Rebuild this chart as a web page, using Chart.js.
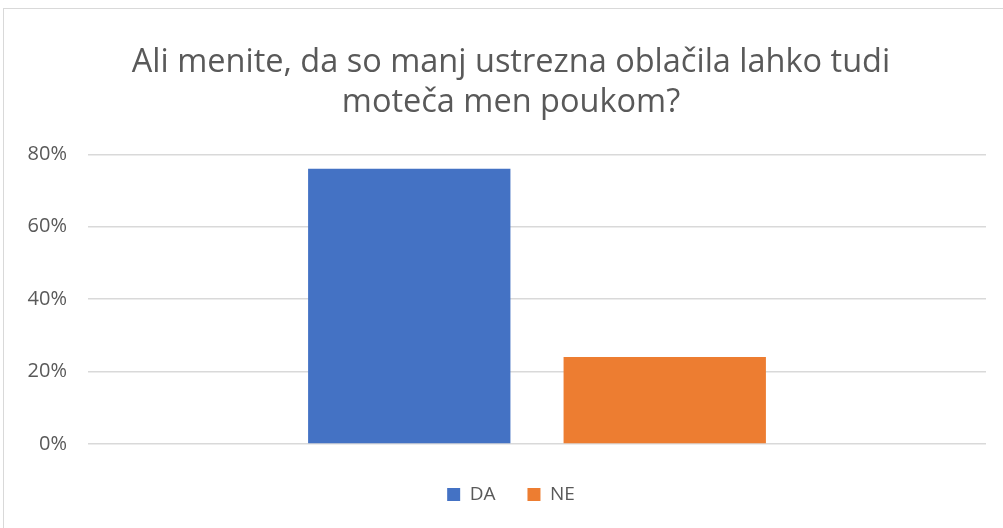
<!DOCTYPE html>
<html>
<head>
<meta charset="utf-8">
<script src="https://cdn.jsdelivr.net/npm/chart.js@4.4.0/dist/chart.umd.min.js"></script>
<style>
  html, body { margin: 0; padding: 0; background: #fff; overflow: hidden; }
  #frame { position: absolute; left: 3px; top: 8px; width: 1100px; height: 600px; border: 1px solid #d9d9d9; }
  #wrap { position: absolute; left: 0; top: 0; width: 1003px; height: 528px; }
</style>
</head>
<body>
<div id="frame"></div>
<div id="wrap"><canvas id="chart"></canvas></div>
<script>
const categories = [''];
const seriesNames = ['DA', 'NE'];
const daValues = [0.76];
const neValues = [0.24];
const yTicks = [0, 0.2, 0.4, 0.6, 0.8];

const textColor = '#595959';

// y labels sit left of the padded area, so widen the axis clip box after layout
const widenAxisClip = {
  id: 'widenAxisClip',
  afterLayout(chart) { chart.scales.y.left = 0; },
};

const ctx = document.getElementById('chart').getContext('2d');
new Chart(ctx, {
  type: 'bar',
  data: {
    labels: categories,
    datasets: [
      { label: seriesNames[0], data: daValues, backgroundColor: '#4472c4' },
      { label: seriesNames[1], data: neValues, backgroundColor: '#ed7d31' },
    ],
  },
  plugins: [widenAxisClip],
  options: {
    responsive: true,
    maintainAspectRatio: false,
    animation: false,
    categoryPercentage: 0.569,
    barPercentage: 0.792,
    layout: { padding: { left: 36, right: 17, top: 20, bottom: 14 } },
    plugins: {
      title: {
        display: true,
        text: ['Ali menite, da so manj ustrezna oblačila lahko tudi', 'moteča men poukom?'],
        color: textColor,
        font: { family: 'Open Sans', size: 32.5, weight: 'normal', lineHeight: 1.25 },
        padding: { top: 22, bottom: 31 },
      },
      legend: {
        position: 'bottom',
        labels: {
          color: textColor,
          font: { family: 'Open Sans', size: 19 },
          boxWidth: 13,
          boxHeight: 13,
          padding: 32,
        },
      },
      tooltip: { enabled: false },
    },
    scales: {
      x: {
        grid: { display: false },
        border: { display: false },
        ticks: { display: false },
        afterFit: (axis) => { axis.height = 9; },
      },
      y: {
        min: 0,
        max: 0.8,
        afterBuildTicks: (axis) => { axis.ticks = yTicks.map(v => ({ value: v })); },
        afterFit: (axis) => { axis.width = 52; },
        grid: { color: '#d9d9d9', lineWidth: 1.5, drawTicks: false },
        border: { display: false },
        ticks: {
          color: textColor,
          font: { family: 'Open Sans', size: 20 },
          padding: 21,
          callback: (v) => Math.round(v * 100) + '%',
        },
      },
    },
  },
});
</script>
</body>
</html>
